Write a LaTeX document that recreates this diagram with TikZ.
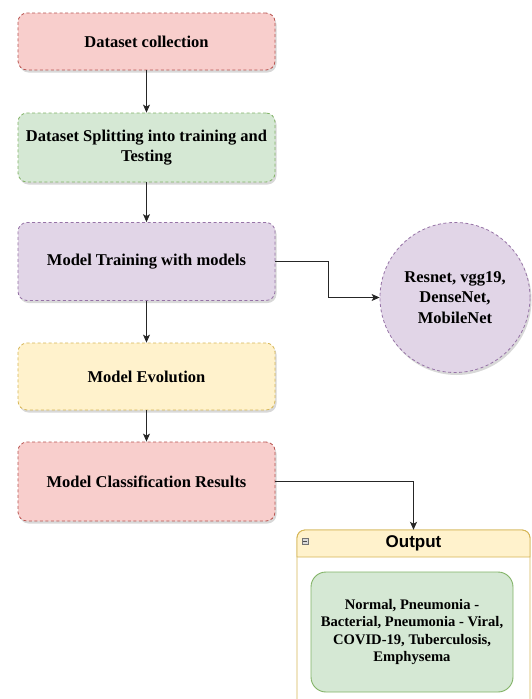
\documentclass[tikz,border=0pt]{standalone}
\usepackage{fontspec}
\setmainfont{Liberation Serif}
\newfontfamily\helv{Liberation Sans}
\usetikzlibrary{arrows.meta,shadows}
\definecolor{redF}{HTML}{F8CECC}
\definecolor{redD}{HTML}{B85450}
\definecolor{grnF}{HTML}{D5E8D4}
\definecolor{grnD}{HTML}{82B366}
\definecolor{purF}{HTML}{E1D5E7}
\definecolor{purD}{HTML}{9673A6}
\definecolor{yelF}{HTML}{FFF2CC}
\definecolor{yelD}{HTML}{D6B656}
\tikzset{
  procbox/.style={rectangle, rounded corners=9pt, line width=0.8pt,
    dash pattern=on 3pt off 2.5pt, inner sep=0pt, align=center,
    minimum width=257pt,
    font=\bfseries\fontsize{16.5}{20}\selectfont,
    drop shadow={shadow xshift=1.5pt, shadow yshift=-2.5pt, opacity=0.25, fill=black!60}},
  arr/.style={line width=0.9pt, draw=black!85,
    -{Stealth[length=8pt,width=7pt,inset=2pt]}},
}
\begin{document}
\begin{tikzpicture}[x=1pt,y=-1pt]
\useasboundingbox[fill=white] (0,0) rectangle (532,699);

\node[procbox, fill=redF, draw=redD, minimum height=57pt] (b1) at (146.5,41.5) {Dataset collection};
\node[procbox, fill=grnF, draw=grnD, minimum height=69pt] (b2) at (146.5,147.5) {Dataset Splitting into training and\\Testing};
\node[procbox, fill=purF, draw=purD, minimum height=78pt] (b3) at (146.5,261.5) {Model Training with models};
\node[procbox, fill=yelF, draw=yelD, minimum height=67pt] (b4) at (146.5,376.5) {Model Evolution};
\node[procbox, fill=redF, draw=redD, minimum height=79pt] (b5) at (146.5,481.5) {Model Classification Results};

\node[circle, minimum size=150pt, inner sep=0pt, fill=purF, draw=purD, line width=0.8pt,
  dash pattern=on 3pt off 2.5pt, align=center,
  font=\bfseries\fontsize{16.5}{20.5}\selectfont,
  drop shadow={shadow xshift=1.5pt, shadow yshift=-2.5pt, opacity=0.25, fill=black!60}]
  (circ) at (455,297.5) {Resnet, vgg19,\\DenseNet,\\MobileNet};

% Output container
\draw[yelD, line width=0.9pt, fill=white, rounded corners=8pt] (297,702) -- (297,530) -- (530,530) -- (530,702);
\path[draw=yelD, fill=yelF, line width=0.9pt] (297,557) [rounded corners=8pt] -- (297,530) -- (530,530) [sharp corners] -- (530,557) -- cycle;
\node[minimum width=233pt, minimum height=27pt, inner sep=0pt,
  font=\helv\bfseries\fontsize{17}{20}\selectfont] (outbox) at (413.5,543.5) {Output};
\draw[fill=black!15, draw=black!55, line width=0.5pt] (302,538) rectangle (308,544);
\draw[black!70, line width=0.6pt] (303.3,541) -- (306.7,541);

\node[rounded corners=15pt, fill=grnF, draw=grnD, line width=0.9pt, inner sep=0pt,
  minimum width=202pt, minimum height=120pt, align=center,
  font=\bfseries\fontsize{14.6}{17.6}\selectfont] (res) at (412,632)
  {Normal, Pneumonia -\\Bacterial, Pneumonia - Viral,\\COVID-19, Tuberculosis,\\Emphysema};

% connectors
\draw[arr] (b1.south) -- (b2.north);
\draw[arr] (b2.south) -- (b3.north);
\draw[arr] (b3.south) -- (b4.north);
\draw[arr] (b4.south) -- (b5.north);
\draw[arr] (b3.east) -- ++(53,0) |- (circ.west);
\draw[arr] (b5.east) -| (outbox.north);
\end{tikzpicture}
\end{document}
